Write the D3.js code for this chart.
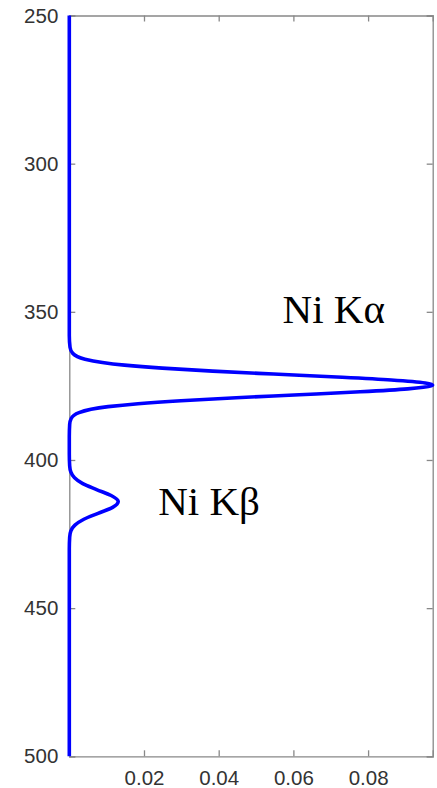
<!DOCTYPE html>
<html>
<head>
<meta charset="utf-8">
<script src="https://cdn.jsdelivr.net/npm/d3@7"></script>
<style>
  body { margin: 0; background: #fff; }
  svg { display: block; }
</style>
</head>
<body>
<div id="chart"></div>
<script>
// energy channel (vertical axis) and intensity (horizontal axis)
var energy = [250, 300, 340, 358, 362, 364, 366, 368, 369, 370, 371, 372, 373, 374, 374.7, 375, 376, 377, 378, 379, 380, 381, 382, 384, 386, 388, 392, 398, 402, 404, 406, 408, 410, 412, 414, 416, 418, 420, 422, 424, 426, 430, 450, 500];
var intensity = [0, 0, 0, 0, 0.0002, 0.0009, 0.0042, 0.0148, 0.0249, 0.0384, 0.0547, 0.0716, 0.0862, 0.0953, 0.0973, 0.0969, 0.0906, 0.0779, 0.0616, 0.0447, 0.0299, 0.0184, 0.0104, 0.0026, 0.0005, 0.0001, 0, 0, 0.0001, 0.0004, 0.0014, 0.0036, 0.0073, 0.0112, 0.0131, 0.0116, 0.0077, 0.0039, 0.0015, 0.0004, 0.0001, 0, 0, 0];

var xTicks = [0.02, 0.04, 0.06, 0.08];
var yTicks = [250, 300, 350, 400, 450, 500];

var peakLabels = ["Ni K\u03b1", "Ni K\u03b2"];
var peakLabelAt = [[0.0571, 353.8], [0.0238, 418.6]]; // intensity, energy where label sits

var svgWidth = 437;
var svgHeight = 788;

var margin = { top: 15.5, right: 4.3, bottom: 31.7, left: 69.3 };
var width = svgWidth - margin.left - margin.right;
var height = svgHeight - margin.top - margin.bottom;

var svg = d3.select("#chart")
  .append("svg")
  .attr("width", svgWidth)
  .attr("height", svgHeight);

var chartGroup = svg.append("g")
  .attr("transform", `translate(${margin.left}, ${margin.top})`);

var xScale = d3.scaleLinear().domain([0, 0.0973]).range([0, width]);
var yScale = d3.scaleLinear().domain([250, 500]).range([0, height]);

var axisColor = "#888";
var textColor = "#333";
var tickLen = 6;

// axes with inward ticks (bottom + left labelled, top + right mirrored)
var bottomAxis = d3.axisBottom(xScale).tickValues(xTicks).tickSize(-tickLen).tickPadding(14)
  .tickFormat(d3.format(".2f"));
var topAxis = d3.axisTop(xScale).tickValues(xTicks).tickSize(-tickLen).tickFormat("");
var leftAxis = d3.axisLeft(yScale).tickValues(yTicks).tickSize(-tickLen).tickPadding(11);
var rightAxis = d3.axisRight(yScale).tickValues(yTicks).tickSize(-tickLen).tickFormat("");

var axes = [
  chartGroup.append("g").attr("transform", `translate(0, ${height})`).call(bottomAxis),
  chartGroup.append("g").call(topAxis),
  chartGroup.append("g").call(leftAxis),
  chartGroup.append("g").attr("transform", `translate(${width}, 0)`).call(rightAxis)
];

axes.forEach(function(a) {
  a.select(".domain").attr("stroke", axisColor).attr("stroke-width", 1.3);
  a.selectAll(".tick line").attr("stroke", axisColor).attr("stroke-width", 1.3);
  a.selectAll(".tick text")
    .attr("fill", textColor)
    .attr("font-family", "'Liberation Sans', Arial, sans-serif")
    .attr("font-size", "20.5px");
});

// spectrum line
var data = energy.map(function(e, i) { return { e: e, v: intensity[i] }; });

var line = d3.line()
  .x(d => xScale(d.v))
  .y(d => yScale(d.e))
  .curve(d3.curveMonotoneY);

chartGroup.append("path")
  .datum(data)
  .attr("fill", "none")
  .attr("stroke", "#0000ff")
  .attr("stroke-width", 3.6)
  .attr("stroke-linejoin", "round")
  .attr("d", line);

// peak labels
chartGroup.selectAll(".peak")
  .data(peakLabels)
  .enter()
  .append("text")
  .attr("x", (d, i) => xScale(peakLabelAt[i][0]))
  .attr("y", (d, i) => yScale(peakLabelAt[i][1]))
  .attr("font-family", "'Liberation Serif', 'Times New Roman', serif")
  .attr("font-size", "41px")
  .attr("fill", "#000")
  .text(d => d);
</script>
</body>
</html>
